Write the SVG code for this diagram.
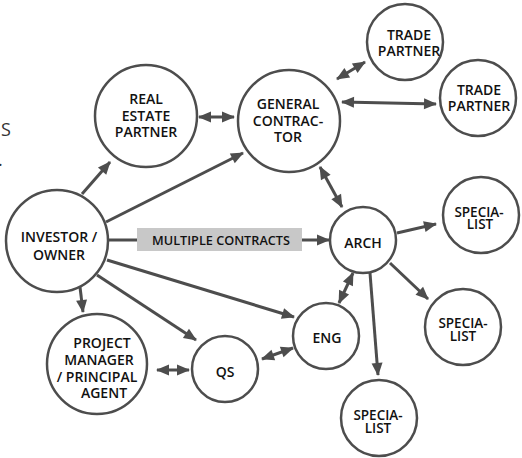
<svg xmlns="http://www.w3.org/2000/svg" width="522" height="458" viewBox="0 0 522 458">
<defs>
<marker id="ah" markerUnits="userSpaceOnUse" markerWidth="14" markerHeight="12" refX="12" refY="5.5" orient="auto-start-reverse" overflow="visible">
<path d="M0,0 L13,5.5 L0,11 z" fill="#4d4d4d"/>
</marker>
</defs>
<style>
.n circle{fill:#fff;stroke:#4d4d4d;stroke-width:2.5}
text{font-family:"Open Sans","Noto Sans","Liberation Sans",sans-serif;font-size:14px;font-weight:600;fill:#111;text-anchor:middle}
.sp{font-size:13.5px}
.c line{stroke:#4d4d4d;stroke-width:3}
.one{marker-end:url(#ah)}
.two{marker-start:url(#ah);marker-end:url(#ah)}
.edge{font-size:18px;font-weight:400;text-anchor:start;fill:#333}
</style>
<rect width="522" height="458" fill="#fff"/>
<text class="edge" x="1" y="136">S</text>
<text class="edge" x="-2" y="166">.</text>
<g class="c" id="connectors">
<line class="one" x1="82" y1="194" x2="110" y2="162"/>
<line class="one" x1="106" y1="222" x2="243" y2="153"/>
<line class="one" x1="108" y1="240" x2="329" y2="240"/>
<line class="one" x1="107" y1="260" x2="294" y2="317"/>
<line class="one" x1="97" y1="275" x2="196" y2="340"/>
<line class="one" x1="80" y1="287" x2="83" y2="312"/>
<line class="two" x1="199" y1="117" x2="234" y2="117"/>
<line class="two" x1="337" y1="79" x2="365" y2="62"/>
<line class="two" x1="342" y1="102" x2="436" y2="104"/>
<line class="two" x1="320" y1="167" x2="342" y2="207"/>
<line class="one" x1="397" y1="233" x2="436" y2="224"/>
<line class="one" x1="390" y1="263" x2="428" y2="299"/>
<line class="one" x1="370" y1="273" x2="378" y2="375"/>
<line class="two" x1="353" y1="273" x2="339" y2="303"/>
<line class="two" x1="262" y1="359" x2="293" y2="348"/>
<line class="two" x1="157" y1="370" x2="189" y2="370"/>
<g id="label-multiple">
<rect x="137" y="228" width="165" height="23" fill="#c8c8c8"/>
<text x="221" y="244.5" style="font-size:12.7px">MULTIPLE CONTRACTS</text>
</g>
</g>
<g class="n" id="investor"><circle cx="57" cy="241" r="51"/><text x="59" y="242">INVESTOR /</text><text x="59" y="260">OWNER</text></g>
<g class="n" id="realestate"><circle cx="146" cy="116" r="51"/><text x="146" y="104">REAL</text><text x="146" y="121">ESTATE</text><text x="146" y="137">PARTNER</text></g>
<g class="n" id="gc"><circle cx="289" cy="121" r="51"/><text x="288" y="109">GENERAL</text><text x="288" y="126">CONTRAC-</text><text x="288" y="142">TOR</text></g>
<g class="n" id="trade1"><circle cx="405" cy="42" r="38"/><text x="409" y="40">TRADE</text><text x="409" y="56">PARTNER</text></g>
<g class="n" id="trade2"><circle cx="478" cy="98" r="38"/><text x="479" y="95">TRADE</text><text x="479" y="111">PARTNER</text></g>
<g class="n" id="arch"><circle cx="363" cy="240" r="33"/><text x="363" y="248">ARCH</text></g>
<g class="n" id="spec1"><circle cx="481" cy="215" r="38"/><text class="sp" x="479" y="216.5">SPECIA-</text><text class="sp" x="480" y="229">LIST</text></g>
<g class="n" id="spec2"><circle cx="463" cy="327" r="38"/><text class="sp" x="463" y="328">SPECIA-</text><text class="sp" x="463" y="340.5">LIST</text></g>
<g class="n" id="spec3"><circle cx="379" cy="418" r="38"/><text class="sp" x="378" y="420">SPECIA-</text><text class="sp" x="378" y="432.5">LIST</text></g>
<g class="n" id="eng"><circle cx="326" cy="336" r="33"/><text x="327" y="343">ENG</text></g>
<g class="n" id="qs"><circle cx="225" cy="369" r="33"/><text x="225" y="377">QS</text></g>
<g class="n" id="pm"><circle cx="97" cy="364" r="50"/><text x="102" y="348">PROJECT</text><text x="99" y="365">MANAGER</text><text x="97" y="382">/ PRINCIPAL</text><text x="104" y="398">AGENT</text></g>
</svg>
